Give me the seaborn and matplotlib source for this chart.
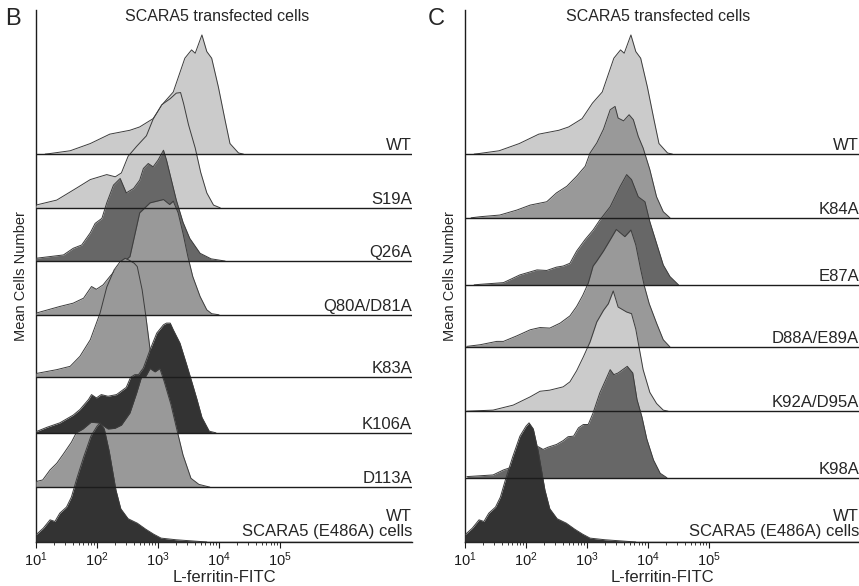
import matplotlib
matplotlib.use("Agg")
import matplotlib.pyplot as plt
import matplotlib.ticker as mticker
import matplotlib.transforms as mtransforms
import seaborn as sns
import numpy as np

# Histograms: x = log10(L-ferritin-FITC), y = cell count
# (same count scale for every histogram, 100 ~ one lane of panel B)
wt_dec = [1.15, 1.23, 1.56, 1.89, 2.21, 2.54, 2.70, 2.92, 3.09, 3.25, 3.44, 3.55, 3.61, 3.72, 3.80, 3.88, 3.99, 4.10, 4.18, 4.32, 4.40]
wt_cnt = [0, 1, 6, 19, 36, 43, 49, 64, 92, 112, 173, 188, 182, 215, 185, 173, 121, 61, 19, 2, 0]

s19a_dec = [1.0, 1.34, 1.67, 1.89, 2.16, 2.30, 2.40, 2.51, 2.65, 2.81, 2.92, 3.06, 3.20, 3.30, 3.37, 3.42, 3.50, 3.61, 3.70, 3.80, 3.91, 4.02]
s19a_cnt = [5, 14, 36, 51, 60, 56, 63, 93, 111, 130, 160, 186, 197, 207, 208, 188, 150, 108, 64, 27, 5, 0]

q26a_dec = [1.0, 1.45, 1.61, 1.75, 1.89, 1.97, 2.08, 2.16, 2.27, 2.38, 2.48, 2.60, 2.70, 2.76, 2.84, 2.92, 3.00, 3.09, 3.14, 3.22, 3.30, 3.41, 3.52, 3.69, 3.87, 4.10]
q26a_cnt = [5, 11, 23, 29, 51, 68, 77, 105, 137, 149, 123, 131, 146, 167, 176, 170, 182, 200, 182, 146, 110, 70, 41, 14, 4, 0]

q80a_dec = [1.0, 1.39, 1.61, 1.78, 1.91, 1.99, 2.10, 2.21, 2.36, 2.54, 2.70, 2.87, 3.09, 3.19, 3.25, 3.33, 3.41, 3.49, 3.57, 3.69, 3.80, 3.88, 4.0]
q80a_cnt = [3, 15, 21, 30, 51, 46, 54, 69, 88, 105, 184, 202, 208, 199, 205, 184, 147, 105, 69, 33, 9, 2, 0]

k83a_dec = [1.0, 1.34, 1.56, 1.72, 1.89, 2.05, 2.16, 2.28, 2.38, 2.46, 2.52, 2.61, 2.66, 2.74, 2.80, 2.85, 2.90, 2.96, 3.05]
k83a_cnt = [6, 13, 19, 37, 67, 115, 162, 193, 208, 214, 211, 205, 199, 157, 110, 67, 22, 4, 0]

k106a_dec = [1.0, 1.18, 1.39, 1.61, 1.72, 1.86, 1.91, 1.99, 2.07, 2.18, 2.32, 2.48, 2.55, 2.62, 2.68, 2.76, 2.87, 2.98, 3.09, 3.14, 3.20, 3.25, 3.36, 3.47, 3.56, 3.64, 3.72, 3.84, 3.95]
k106a_cnt = [2, 10, 18, 32, 42, 60, 69, 63, 69, 66, 69, 82, 100, 105, 105, 117, 150, 180, 195, 198, 198, 186, 162, 123, 90, 60, 28, 3, 0]

d113a_dec = [1.0, 1.11, 1.23, 1.34, 1.45, 1.58, 1.66, 1.77, 1.90, 2.03, 2.18, 2.29, 2.40, 2.54, 2.65, 2.73, 2.80, 2.87, 2.95, 3.03, 3.10, 3.21, 3.30, 3.41, 3.54, 3.67, 3.85]
d113a_cnt = [10, 13, 31, 43, 60, 81, 98, 105, 117, 116, 105, 106, 112, 134, 170, 199, 200, 214, 208, 214, 191, 150, 108, 58, 16, 5, 0]

e486a_dec = [1.0, 1.12, 1.23, 1.31, 1.39, 1.50, 1.58, 1.67, 1.78, 1.90, 2.00, 2.05, 2.12, 2.20, 2.31, 2.39, 2.51, 2.66, 2.80, 2.93, 3.05, 3.30, 3.55, 3.80]
e486a_cnt = [13, 25, 40, 37, 52, 63, 81, 115, 153, 191, 209, 215, 204, 164, 94, 60, 42, 34, 23, 14, 7, 4, 2, 0]

k84a_dec = [1.1, 1.25, 1.57, 1.85, 2.07, 2.34, 2.50, 2.67, 2.83, 2.97, 3.05, 3.16, 3.27, 3.38, 3.46, 3.51, 3.60, 3.69, 3.76, 3.84, 3.92, 4.03, 4.14, 4.25, 4.36]
k84a_cnt = [0, 2, 5, 14, 23, 29, 45, 57, 75, 93, 117, 135, 160, 195, 201, 180, 175, 186, 177, 147, 126, 87, 38, 11, 0]

e87a_dec = [1.15, 1.25, 1.63, 1.90, 2.18, 2.34, 2.50, 2.61, 2.72, 2.83, 2.97, 3.10, 3.21, 3.38, 3.54, 3.65, 3.73, 3.84, 3.95, 4.03, 4.14, 4.25, 4.36, 4.50]
e87a_cnt = [0, 1, 4, 18, 27, 26, 32, 34, 39, 61, 82, 99, 117, 141, 177, 199, 190, 159, 150, 114, 75, 36, 15, 0]

d88a_dec = [1.03, 1.25, 1.52, 1.63, 1.85, 2.07, 2.23, 2.39, 2.56, 2.72, 2.83, 2.93, 3.02, 3.10, 3.16, 3.27, 3.40, 3.48, 3.62, 3.72, 3.80, 3.88, 3.94, 4.02, 4.14, 4.25, 4.36]
d88a_cnt = [1, 4, 10, 10, 20, 31, 35, 34, 43, 56, 73, 93, 115, 146, 155, 173, 197, 212, 199, 211, 184, 140, 110, 78, 43, 13, 0]

k92a_dec = [1.03, 1.46, 1.79, 2.07, 2.23, 2.39, 2.61, 2.72, 2.83, 2.94, 3.05, 3.16, 3.27, 3.35, 3.43, 3.51, 3.65, 3.73, 3.80, 3.92, 4.03, 4.14, 4.25, 4.33]
k92a_cnt = [0, 2, 11, 26, 36, 38, 44, 53, 73, 98, 125, 161, 182, 194, 217, 188, 179, 176, 148, 75, 34, 14, 2, 0]

k98a_dec = [1.03, 1.46, 1.63, 1.71, 1.85, 2.01, 2.11, 2.20, 2.28, 2.36, 2.50, 2.61, 2.69, 2.78, 2.86, 2.94, 3.02, 3.10, 3.21, 3.32, 3.38, 3.44, 3.51, 3.66, 3.75, 3.82, 3.90, 3.98, 4.09, 4.20, 4.31]
k98a_cnt = [2, 5, 14, 17, 22, 38, 51, 56, 51, 55, 60, 67, 74, 75, 90, 96, 96, 117, 153, 180, 195, 186, 189, 201, 189, 141, 110, 70, 32, 8, 0]

LIGHT, MID, DARKMID, DARK = "#cbcbcb", "#999999", "#676767", "#333333"
BOTTOM_LABEL = "WT\nSCARA5 (E486A) cells"

panel_b = [
    ("WT", wt_dec, wt_cnt, LIGHT),
    ("S19A", s19a_dec, s19a_cnt, LIGHT),
    ("Q26A", q26a_dec, q26a_cnt, DARKMID),
    ("Q80A/D81A", q80a_dec, q80a_cnt, MID),
    ("K83A", k83a_dec, k83a_cnt, MID),
    ("K106A", k106a_dec, k106a_cnt, DARK),
    ("D113A", d113a_dec, d113a_cnt, MID),
    (BOTTOM_LABEL, e486a_dec, e486a_cnt, DARK),
]
panel_c = [
    ("WT", wt_dec, wt_cnt, LIGHT),
    ("K84A", k84a_dec, k84a_cnt, MID),
    ("E87A", e87a_dec, e87a_cnt, DARKMID),
    ("D88A/E89A", d88a_dec, d88a_cnt, MID),
    ("K92A/D95A", k92a_dec, k92a_cnt, LIGHT),
    ("K98A", k98a_dec, k98a_cnt, DARKMID),
    (BOTTOM_LABEL, e486a_dec, e486a_cnt, DARK),
]
# lane baselines (top to bottom)
base_b = [700, 603, 507, 410, 298, 197, 99, 0]
base_c = [700, 585, 464, 352, 236, 116, 0]

sns.set_theme(style="ticks")
plt.rcParams["font.family"] = ["Liberation Sans", "DejaVu Sans"]
plt.rcParams["mathtext.fontset"] = "custom"
plt.rcParams["mathtext.rm"] = "Liberation Sans"
plt.rcParams["mathtext.it"] = "Liberation Sans:italic"

W, H = 859, 586
fig = plt.figure(figsize=(W / 100, H / 100), dpi=100)
fig.patch.set_facecolor("white")


def draw_panel(ax, rows, bases):
    ax.set_xscale("log")
    trans = mtransforms.blended_transform_factory(ax.transAxes, ax.transData)
    for i, ((name, dec, cnt, col), base) in enumerate(zip(rows, bases)):
        xs = 10 ** np.array(dec)
        ys = base + np.array(cnt)
        ax.fill_between(xs, base, ys, color=col, lw=0, zorder=2 + i)
        sns.lineplot(x=xs, y=ys, ax=ax, color="#3c3c3c", lw=0.7,
                     sort=False, estimator=None, zorder=2 + i)
        ax.axhline(base, color="#1c1c1c", lw=1.0, zorder=30)
        off = 5 if "\n" in name else 1.5
        ax.text(1.0, base + off, name, transform=trans, ha="right", va="bottom",
                fontsize=12, multialignment="right", linespacing=1.05, zorder=31)

    ax.set_ylim(0, 960)
    ax.set_yticks([])
    ax.xaxis.set_major_locator(mticker.FixedLocator([1e1, 1e2, 1e3, 1e4, 1e5]))
    ax.xaxis.set_minor_locator(mticker.FixedLocator(
        [k * 10.0 ** e for e in range(1, 5) for k in range(2, 10)]))
    ax.xaxis.set_minor_formatter(mticker.NullFormatter())
    ax.tick_params(axis="x", which="major", direction="out", length=4, width=0.8,
                   colors="#1c1c1c", labelsize=10.5, pad=2)
    ax.tick_params(axis="x", which="minor", direction="out", length=2, width=0.6,
                   colors="#1c1c1c")
    for s in ["top", "right"]:
        ax.spines[s].set_visible(False)
    ax.spines["left"].set_linewidth(1.0)
    ax.spines["bottom"].set_linewidth(1.0)
    ax.spines["left"].set_color("#1c1c1c")
    ax.spines["bottom"].set_color("#1c1c1c")
    ax.set_xlabel("L-ferritin-FITC", fontsize=12, labelpad=1)
    ax.set_ylabel("Mean Cells Number", fontsize=10.5, labelpad=6)
    ax.set_facecolor("white")


dec_px = 61.0  # pixels per decade
ax_b = fig.add_axes([36 / W, 44 / H, 376 / W, 532 / H])
ax_b.set_xlim(10, 10 ** (1 + 376 / dec_px))
draw_panel(ax_b, panel_b, base_b)

ax_c = fig.add_axes([465 / W, 44 / H, 394 / W, 532 / H])
ax_c.set_xlim(10, 10 ** (1 + 394 / dec_px))
draw_panel(ax_c, panel_c, base_c)

fig.text(5 / W, 1 - 25 / H, "B", fontsize=17, va="baseline", ha="left")
fig.text(428 / W, 1 - 25 / H, "C", fontsize=17, va="baseline", ha="left")
fig.text(217 / W, 1 - 21 / H, "SCARA5 transfected cells", fontsize=11.5,
         va="baseline", ha="center")
fig.text(658 / W, 1 - 21 / H, "SCARA5 transfected cells", fontsize=11.5,
         va="baseline", ha="center")

fig.savefig("out.png", dpi=100, facecolor="white")
